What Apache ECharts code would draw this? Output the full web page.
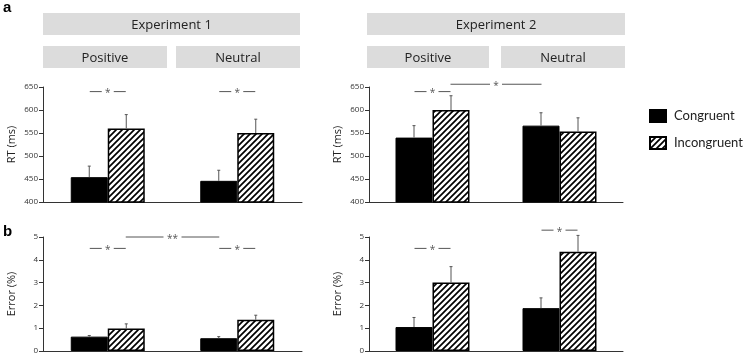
<!DOCTYPE html>
<html>
<head>
<meta charset="utf-8">
<script src="https://cdn.jsdelivr.net/npm/echarts@6/dist/echarts.min.js"></script>
<style>
  html, body { margin: 0; padding: 0; background: #fff; }
  #main { width: 746px; height: 355px; }
</style>
</head>
<body>
<div id="main"></div>
<script>
// data
var categories = ['Positive', 'Neutral'];
var experiments = ['Experiment 1', 'Experiment 2'];
var seriesNames = ['Congruent', 'Incongruent'];

// RT (ms)
var rtCong1 = [454, 446];
var rtCongErr1 = [24, 23];
var rtIncong1 = [560, 550];
var rtIncongErr1 = [30, 30];
var rtCong2 = [540, 566];
var rtCongErr2 = [26, 28];
var rtIncong2 = [600, 553];
var rtIncongErr2 = [31, 30];

// Error (%)
var erCong1 = [0.63, 0.56];
var erCongErr1 = [0.05, 0.07];
var erIncong1 = [0.99, 1.37];
var erIncongErr1 = [0.2, 0.2];
var erCong2 = [1.05, 1.88];
var erCongErr2 = [0.42, 0.45];
var erIncong2 = [3.0, 4.35];
var erIncongErr2 = [0.7, 0.72];

// significance: [fromCategory, toCategory, y, label]
var sigRt1 = [[0, 0, 640, '*'], [1, 1, 640, '*']];
var sigRt2 = [[0, 0, 640, '*'], [0, 1, 656, '*']];
var sigEr1 = [[0, 0, 4.5, '*'], [1, 1, 4.5, '*'], [0, 1, 5.0, '**']];
var sigEr2 = [[0, 0, 4.5, '*'], [1, 1, 5.3, '*']];

var rtTicks = { min: 400, max: 650, interval: 50 };
var erTicks = { min: 0, max: 5, interval: 1 };

var BAR_W = 37;

function hatch() {
    var c = document.createElement('canvas');
    c.width = 6; c.height = 6;
    var g = c.getContext('2d');
    g.fillStyle = '#fff';
    g.fillRect(0, 0, 6, 6);
    g.strokeStyle = '#000';
    g.lineWidth = 1.7;
    g.beginPath();
    g.moveTo(0, 6); g.lineTo(6, 0);
    g.moveTo(-3, 3); g.lineTo(3, -3);
    g.moveTo(3, 9); g.lineTo(9, 3);
    g.stroke();
    return c;
}
var hatchFill = { image: hatch(), repeat: 'repeat' };

var panels = [
    { grid: { left: 43, width: 259, top: 87, height: 115 }, ticks: rtTicks, name: 'RT (ms)',
      cong: rtCong1, congErr: rtCongErr1, inc: rtIncong1, incErr: rtIncongErr1, sig: sigRt1 },
    { grid: { left: 369, width: 254, top: 87, height: 115 }, ticks: rtTicks, name: 'RT (ms)',
      cong: rtCong2, congErr: rtCongErr2, inc: rtIncong2, incErr: rtIncongErr2, sig: sigRt2 },
    { grid: { left: 43, width: 259, top: 237, height: 116 }, ticks: erTicks, name: 'Error (%)',
      cong: erCong1, congErr: erCongErr1, inc: erIncong1, incErr: erIncongErr1, sig: sigEr1 },
    { grid: { left: 369, width: 254, top: 237, height: 116 }, ticks: erTicks, name: 'Error (%)',
      cong: erCong2, congErr: erCongErr2, inc: erIncong2, incErr: erIncongErr2, sig: sigEr2 }
];

var grids = [], xAxes = [], yAxes = [], series = [];

panels.forEach(function(p, k) {
    grids.push(p.grid);
    xAxes.push({
        type: 'category', gridIndex: k, data: categories,
        axisLine: { lineStyle: { color: '#333', width: 1 } },
        axisTick: { show: false }, axisLabel: { show: false }
    });
    yAxes.push({
        type: 'value', gridIndex: k,
        min: p.ticks.min, max: p.ticks.max, interval: p.ticks.interval,
        name: p.name, nameLocation: 'middle', nameGap: 26,
        nameTextStyle: { fontFamily: 'Open Sans', fontSize: 11, color: '#222' },
        axisLine: { show: true, lineStyle: { color: '#333', width: 1 } },
        axisTick: { show: true, length: 4, lineStyle: { color: '#333' } },
        axisLabel: { fontFamily: 'Open Sans', fontSize: 8, color: '#333', margin: 5 },
        splitLine: { show: false }
    });
    series.push({
        type: 'bar', name: seriesNames[0], xAxisIndex: k, yAxisIndex: k,
        data: p.cong, barWidth: BAR_W, barGap: '0%',
        itemStyle: { color: '#000', borderColor: '#000', borderWidth: 1 },
        silent: true
    });
    series.push({
        type: 'bar', name: seriesNames[1], xAxisIndex: k, yAxisIndex: k,
        data: p.inc, barWidth: BAR_W, barGap: '0%',
        itemStyle: { color: hatchFill, borderColor: '#000', borderWidth: 1.5 },
        silent: true
    });
    var errData = [];
    categories.forEach(function(c, i) {
        errData.push([i, p.cong[i], p.cong[i] + p.congErr[i], -1]);
        errData.push([i, p.inc[i], p.inc[i] + p.incErr[i], 1]);
    });
    series.push({
        type: 'custom', xAxisIndex: k, yAxisIndex: k, z: 5, silent: true,
        data: errData,
        renderItem: function(params, api) {
            var a = api.coord([api.value(0), api.value(1)]);
            var b = api.coord([api.value(0), api.value(2)]);
            var x = a[0] + api.value(3) * BAR_W / 2;
            var st = { stroke: '#555', lineWidth: 1 };
            return { type: 'group', children: [
                { type: 'line', shape: { x1: x, y1: a[1], x2: x, y2: b[1] }, style: st },
                { type: 'line', shape: { x1: x - 1.5, y1: b[1], x2: x + 1.5, y2: b[1] }, style: st }
            ] };
        }
    });
    series.push({
        type: 'custom', xAxisIndex: k, yAxisIndex: k, z: 5, silent: true,
        data: p.sig,
        renderItem: function(params, api) {
            var d = p.sig[params.dataIndex];
            var a = api.coord([d[0], d[2]]);
            var b = api.coord([d[1], d[2]]);
            var x1, x2;
            if (d[0] === d[1]) { x1 = a[0] - 18; x2 = a[0] + 18; }
            else { x1 = a[0] + 18; x2 = b[0] - 18; }
            var mid = (x1 + x2) / 2, gap = d[3].length * 3 + 3, y = a[1];
            var st = { stroke: '#555', lineWidth: 1 };
            return { type: 'group', children: [
                { type: 'line', shape: { x1: x1, y1: y, x2: mid - gap, y2: y }, style: st },
                { type: 'line', shape: { x1: mid + gap, y1: y, x2: x2, y2: y }, style: st },
                { type: 'text', style: { x: mid, y: y + 2, text: d[3], align: 'center', verticalAlign: 'middle',
                    font: '10px "Open Sans"', fill: '#555' } }
            ] };
        }
    });
});

// header boxes
var graphics = [
    { type: 'text', left: 3, top: 0, style: { text: 'a', font: 'bold 15px "Liberation Sans"', fill: '#000' } },
    { type: 'text', left: 3, top: 224, style: { text: 'b', font: 'bold 15px "Liberation Sans"', fill: '#000' } }
];
var headerPos = [
    { top: [43, 300], sub: [[43, 167], [176, 300]] },
    { top: [367, 625], sub: [[367, 489], [501, 625]] }
];
function box(x1, x2, y1, y2, label) {
    graphics.push({ type: 'rect', shape: { x: x1, y: y1, width: x2 - x1, height: y2 - y1 }, style: { fill: '#dcdcdc' }, silent: true });
    graphics.push({ type: 'text', x: (x1 + x2) / 2, y: (y1 + y2) / 2 + 1,
        style: { text: label, font: '13px "Open Sans"', fill: '#222', align: 'center', verticalAlign: 'middle' }, silent: true });
}
experiments.forEach(function(e, i) {
    var h = headerPos[i];
    box(h.top[0], h.top[1], 13, 35, e);
    categories.forEach(function(c, j) {
        box(h.sub[j][0], h.sub[j][1], 46, 68, c);
    });
});

var chart = echarts.init(document.getElementById('main'));
chart.setOption({
    animation: false,
    textStyle: { fontFamily: 'Open Sans' },
    grid: grids,
    xAxis: xAxes,
    yAxis: yAxes,
    legend: {
        data: seriesNames, orient: 'vertical', left: 649, top: 109, padding: 0,
        icon: 'rect', itemWidth: 16, itemHeight: 12, itemGap: 13,
        textStyle: { fontFamily: 'Lato', fontSize: 13, color: '#222', padding: [0, 0, 0, 3] },
        selectedMode: false
    },
    graphic: graphics,
    series: series
});
</script>
</body>
</html>
